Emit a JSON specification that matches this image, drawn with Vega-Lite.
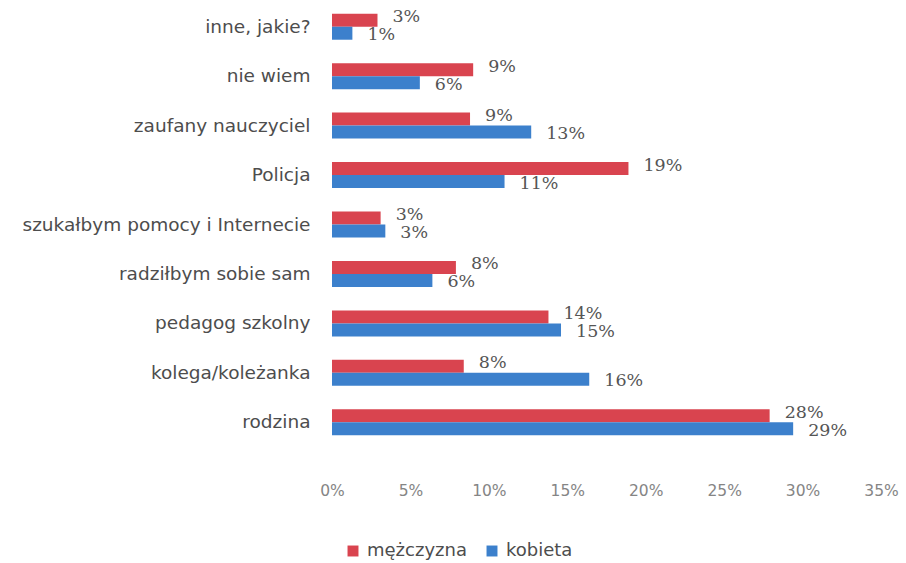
{
  "$schema": "https://vega.github.io/schema/vega-lite/v6.json",
  "width": 549,
  "height": 445,
  "autosize": "none",
  "padding": {"left": 332, "top": 2, "right": 25, "bottom": 116},
  "background": "white",
  "config": {"view": {"stroke": null}},
  "data": {"values": [
    {"cat": "inne, jakie?", "sex": "mężczyzna", "v": 0.029},
    {"cat": "inne, jakie?", "sex": "kobieta", "v": 0.013},
    {"cat": "nie wiem", "sex": "mężczyzna", "v": 0.090},
    {"cat": "nie wiem", "sex": "kobieta", "v": 0.056},
    {"cat": "zaufany nauczyciel", "sex": "mężczyzna", "v": 0.088},
    {"cat": "zaufany nauczyciel", "sex": "kobieta", "v": 0.127},
    {"cat": "Policja", "sex": "mężczyzna", "v": 0.189},
    {"cat": "Policja", "sex": "kobieta", "v": 0.110},
    {"cat": "szukałbym pomocy i Internecie", "sex": "mężczyzna", "v": 0.031},
    {"cat": "szukałbym pomocy i Internecie", "sex": "kobieta", "v": 0.034},
    {"cat": "radziłbym sobie sam", "sex": "mężczyzna", "v": 0.079},
    {"cat": "radziłbym sobie sam", "sex": "kobieta", "v": 0.064},
    {"cat": "pedagog szkolny", "sex": "mężczyzna", "v": 0.138},
    {"cat": "pedagog szkolny", "sex": "kobieta", "v": 0.146},
    {"cat": "kolega/koleżanka", "sex": "mężczyzna", "v": 0.084},
    {"cat": "kolega/koleżanka", "sex": "kobieta", "v": 0.164},
    {"cat": "rodzina", "sex": "mężczyzna", "v": 0.279},
    {"cat": "rodzina", "sex": "kobieta", "v": 0.294}
  ]},
  "encoding": {
    "y": {
      "field": "cat", "type": "nominal",
      "sort": ["inne, jakie?", "nie wiem", "zaufany nauczyciel", "Policja", "szukałbym pomocy i Internecie", "radziłbym sobie sam", "pedagog szkolny", "kolega/koleżanka", "rodzina"],
      "scale": {"paddingInner": 0.474, "paddingOuter": 0.237},
      "axis": {"title": null, "domain": false, "ticks": false, "labelFont": "DejaVu Sans", "labelFontSize": 18.5, "labelColor": "#4d4d4d", "labelPadding": 22, "labelLimit": 400}
    },
    "yOffset": {"field": "sex", "type": "nominal", "sort": ["mężczyzna", "kobieta"]},
    "x": {
      "field": "v", "type": "quantitative",
      "scale": {"domain": [0, 0.35], "nice": false},
      "axis": {"title": null, "format": ".0%", "values": [0, 0.05, 0.1, 0.15, 0.2, 0.25, 0.3, 0.35], "grid": false, "domain": false, "ticks": false, "labelFlush": false, "labelFont": "DejaVu Sans", "labelFontSize": 15.5, "labelColor": "#858585", "labelPadding": 36}
    }
  },
  "layer": [
    {
      "mark": {"type": "bar"},
      "encoding": {
        "color": {
          "field": "sex", "type": "nominal",
          "sort": ["mężczyzna", "kobieta"],
          "scale": {"domain": ["mężczyzna", "kobieta"], "range": ["#d9444f", "#3c80cc"]},
          "legend": {"title": null, "orient": "none", "direction": "horizontal", "legendX": 12, "legendY": 540, "symbolType": "square", "symbolSize": 120, "symbolStrokeWidth": 0, "labelFont": "DejaVu Sans", "labelFontSize": 18, "labelColor": "#4d4d4d", "columnPadding": 16, "labelOffset": 5}
        }
      }
    },
    {
      "transform": [{"filter": "datum.sex === 'mężczyzna'"}],
      "mark": {"type": "text", "align": "left", "baseline": "middle", "dx": 15, "dy": -3, "font": "DejaVu Serif", "fontSize": 17.5, "color": "#555555"},
      "encoding": {
        "text": {"field": "v", "type": "quantitative", "format": ".0%"}
      }
    },
    {
      "transform": [{"filter": "datum.sex === 'kobieta'"}],
      "mark": {"type": "text", "align": "left", "baseline": "middle", "dx": 15, "dy": 2, "font": "DejaVu Serif", "fontSize": 17.5, "color": "#555555"},
      "encoding": {
        "text": {"field": "v", "type": "quantitative", "format": ".0%"}
      }
    }
  ]
}
